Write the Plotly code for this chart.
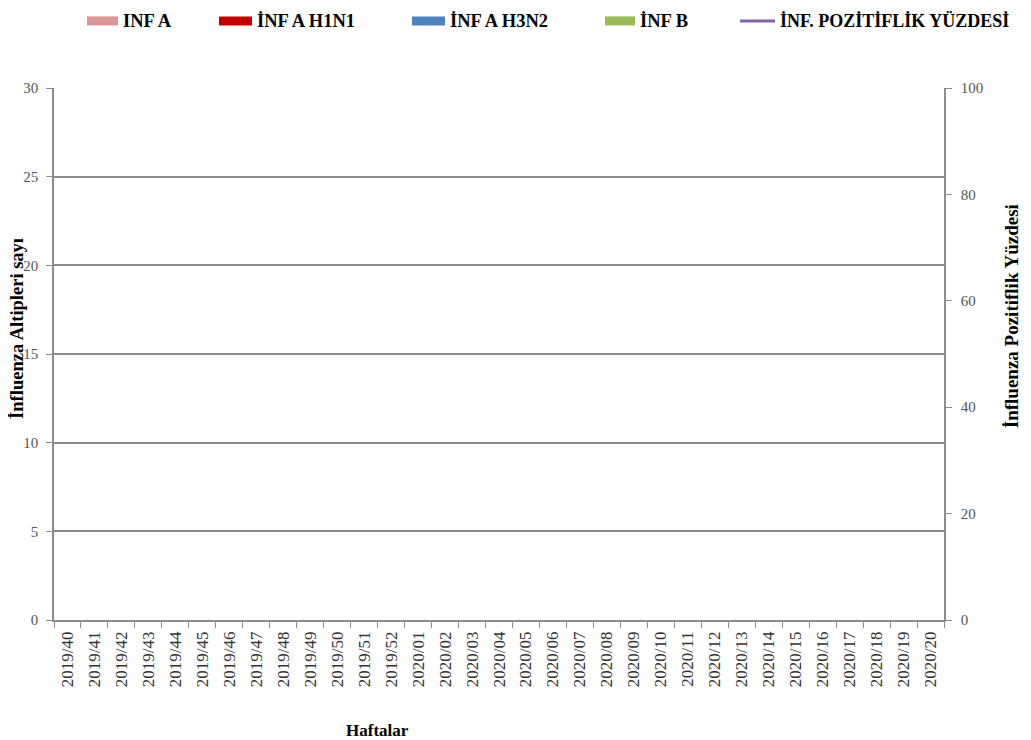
import plotly.graph_objects as go

weeks = [f"2019/{w}" for w in range(40, 53)] + [f"2020/{w:02d}" for w in range(1, 21)]
inf_a = [0] * len(weeks)
inf_a_h1n1 = [0] * len(weeks)
inf_a_h3n2 = [0] * len(weeks)
inf_b = [0] * len(weeks)
positivity = [None] * len(weeks)

series_names = ["INF A", "İNF A H1N1", "İNF A H3N2", "İNF B"]
series_colors = ["#d99694", "#c00000", "#4f81bd", "#9bbb59"]
line_name = "İNF. POZİTİFLİK YÜZDESİ"
line_color = "#8064a2"

FONT = "Liberation Serif"
GRID = "#8c8c8c"

fig = go.Figure()
for vals, nm, col in zip([inf_a, inf_a_h1n1, inf_a_h3n2, inf_b], series_names, series_colors):
    fig.add_trace(go.Bar(x=weeks, y=vals, name=nm, marker_color=col))
fig.add_trace(go.Scatter(x=weeks, y=positivity, name=line_name,
                         mode="lines", line=dict(color=line_color, width=2.5), yaxis="y2"))

# custom top legend (swatch shapes + text annotations), positions in paper units
swatch_x = [(0.0371, 0.0719), (0.1854, 0.2225), (0.4022, 0.4393), (0.6191, 0.6528)]
text_x = [0.0753, 0.2258, 0.4427, 0.6562]
line_x = (0.7708, 0.8101)
line_text_x = 0.8135
leg_y = 1.126

shapes = []
annotations = []
for (x0, x1), tx, nm, col in zip(swatch_x, text_x, series_names, series_colors):
    shapes.append(dict(type="rect", xref="paper", yref="paper", x0=x0, x1=x1,
                       y0=leg_y - 0.0085, y1=leg_y + 0.0085, fillcolor=col, line=dict(width=0)))
    annotations.append(dict(text=f"<b>{nm}</b>", xref="paper", yref="paper", x=tx, y=leg_y,
                            xanchor="left", yanchor="middle", showarrow=False,
                            font=dict(family=FONT, size=18.5, color="black")))
shapes.append(dict(type="line", xref="paper", yref="paper", x0=line_x[0], x1=line_x[1],
                   y0=leg_y, y1=leg_y, line=dict(color=line_color, width=3)))
annotations.append(dict(text=f"<b>{line_name}</b>", xref="paper", yref="paper", x=line_text_x,
                        y=leg_y, xanchor="left", yanchor="middle", showarrow=False,
                        font=dict(family=FONT, size=18, color="black")))

annotations += [
    dict(text="<b>Haftalar</b>", xref="paper", yref="paper",
         x=0.364, y=-0.207, xanchor="center", yanchor="middle", showarrow=False,
         font=dict(family=FONT, size=17, color="black")),
    dict(text="<b>İnfluenza Altipleri sayı</b>", xref="paper", yref="paper",
         x=-0.0416, y=0.549, xanchor="center", yanchor="middle", textangle=-90,
         showarrow=False, font=dict(family=FONT, size=18.5, color="black")),
    dict(text="<b>İnfluenza Pozitiflik Yüzdesi</b>", xref="paper", yref="paper",
         x=1.0753, y=0.571, xanchor="center", yanchor="middle", textangle=-90,
         showarrow=False, font=dict(family=FONT, size=19, color="black")),
]

fig.update_layout(
    width=1023, height=732,
    paper_bgcolor="white", plot_bgcolor="white",
    margin=dict(l=46, r=87, t=80, b=120, autoexpand=False),
    font=dict(family=FONT, size=15, color="#444"),
    barmode="stack",
    showlegend=False,
    xaxis=dict(type="category", categoryarray=weeks, tickangle=-90,
               showline=True, linecolor=GRID, linewidth=1.5,
               ticks="outside", tickson="boundaries", ticklen=6, tickcolor=GRID,
               ticklabelstandoff=3,
               showgrid=False, tickfont=dict(family=FONT, size=17, color="#333")),
    yaxis=dict(range=[0, 30], dtick=5, showline=True, linecolor=GRID, linewidth=1.5,
               ticks="outside", ticklen=6, tickcolor=GRID, ticklabelstandoff=5,
               showgrid=True, gridcolor=GRID, gridwidth=1.5, zeroline=False,
               tickfont=dict(family=FONT, size=15, color="#555")),
    yaxis2=dict(range=[0, 100], dtick=20, overlaying="y", side="right",
                showline=True, linecolor=GRID, linewidth=1.5,
                ticks="outside", ticklen=6, tickcolor=GRID, ticklabelstandoff=6,
                showgrid=False, zeroline=False,
                tickfont=dict(family=FONT, size=15, color="#555")),
    shapes=shapes,
    annotations=annotations,
)

fig.write_html("out.html")
